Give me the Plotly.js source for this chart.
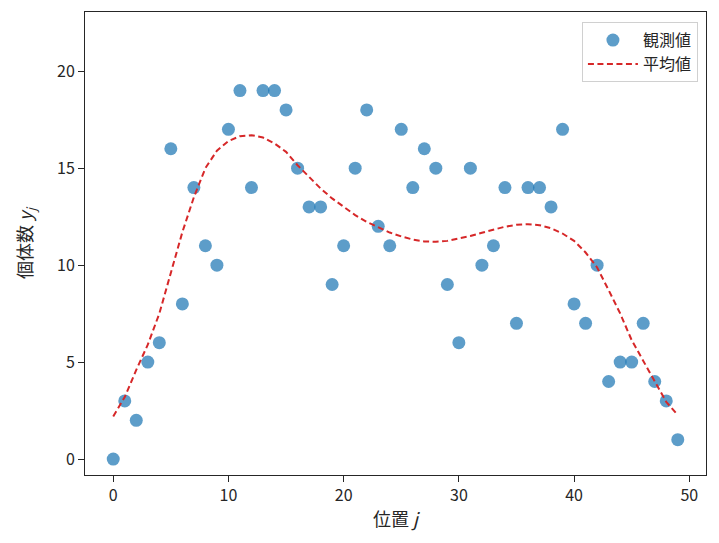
<!DOCTYPE html>
<html>
<head>
<meta charset="utf-8">
<script src="https://cdn.plot.ly/plotly-3.0.1.min.js"></script>
<style>
  html, body { margin: 0; padding: 0; background: #fff; }
  #chart { width: 719px; height: 543px; }
</style>
</head>
<body>
<div id="chart"></div>
<script>
// positions j = 0..49
const positions = [0,1,2,3,4,5,6,7,8,9,10,11,12,13,14,15,16,17,18,19,20,21,22,23,24,
  25,26,27,28,29,30,31,32,33,34,35,36,37,38,39,40,41,42,43,44,45,46,47,48,49];

const observed = [0,3,2,5,6,16,8,14,11,10,17,19,14,19,19,18,15,13,13,9,11,15,18,12,11,
  17,14,16,15,9,6,15,10,11,14,7,14,14,13,17,8,7,10,4,5,5,7,4,3,1];

// mean curve
const meanCurve = [2.2,3.2,4.6,5.9,7.5,9.6,11.7,13.5,15.0,15.9,16.4,16.65,16.7,16.58,16.27,15.84,
  15.15,14.55,13.95,13.44,13.0,12.58,12.23,11.97,11.68,11.48,11.32,11.22,11.2,11.25,11.36,11.5,
  11.67,11.84,11.98,12.08,12.11,12.06,11.9,11.63,11.25,10.65,9.88,8.71,7.51,6.13,5.07,4.02,2.95,2.27];

const jpFont = 'Noto Sans CJK JP, Noto Sans, sans-serif';
const tickFont = { family: jpFont, size: 16, color: '#262626' };
const titleFont = { family: jpFont, size: 18, color: '#262626' };

Plotly.newPlot('chart', [
  {
    x: positions,
    y: observed,
    name: '観測値',
    type: 'scatter',
    mode: 'markers',
    marker: { color: 'rgba(31,119,180,0.72)', size: 13 }
  },
  {
    x: positions,
    y: meanCurve,
    name: '平均値',
    type: 'scatter',
    mode: 'lines',
    line: { color: '#d62728', width: 2, dash: '6px,3.5px' }
  }
], {
  width: 719,
  height: 543,
  margin: { l: 85, r: 13, t: 12, b: 68 },
  paper_bgcolor: '#fff',
  plot_bgcolor: '#fff',
  showlegend: true,
  legend: {
    x: 0.987, y: 0.978, xanchor: 'right', yanchor: 'top',
    bgcolor: 'rgba(255,255,255,0.85)',
    bordercolor: '#d0d0d0', borderwidth: 1,
    font: { family: jpFont, size: 16, color: '#262626' },
    itemwidth: 50
  },
  xaxis: {
    range: [-2.45, 51.45],
    tickvals: [0, 10, 20, 30, 40, 50],
    ticks: 'outside', ticklen: 6, tickwidth: 1, tickcolor: '#262626',
    showgrid: false, zeroline: false,
    showline: true, linecolor: '#262626', linewidth: 1, mirror: true,
    tickfont: tickFont,
    title: { text: '位置 <i>j</i>', font: titleFont, standoff: 8 }
  },
  yaxis: {
    range: [-0.82, 23.05],
    tickvals: [0, 5, 10, 15, 20],
    ticks: 'outside', ticklen: 6, tickwidth: 1, tickcolor: '#262626',
    showgrid: false, zeroline: false,
    showline: true, linecolor: '#262626', linewidth: 1, mirror: true,
    tickfont: tickFont,
    title: { text: '個体数 <i>y</i><sub><i>j</i></sub>', font: titleFont, standoff: 19 }
  }
}, { displayModeBar: false, staticPlot: true });
</script>
</body>
</html>
